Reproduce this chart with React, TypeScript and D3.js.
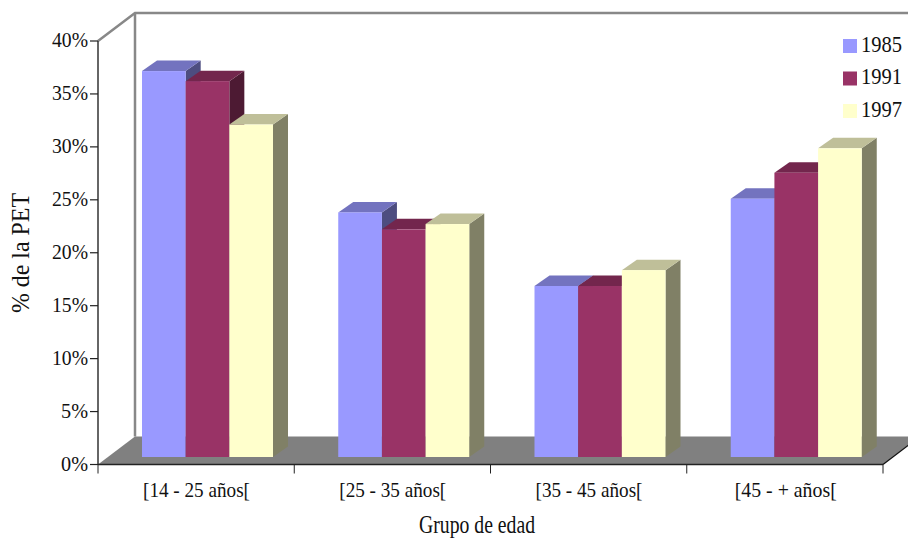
import React from "react";
import * as d3 from "d3";

const categories = ["[14 - 25 años[", "[25 - 35 años[", "[35 - 45 años[", "[45 - + años["];
const years = ["1985", "1991", "1997"];
const v1985 = [36.45, 23.1, 16.15, 24.4];
const v1991 = [35.5, 21.5, 16.15, 26.85];
const v1997 = [31.4, 22.0, 17.65, 29.15];
const seriesValues = [v1985, v1991, v1997];
const yTicks = [0, 5, 10, 15, 20, 25, 30, 35, 40];
const front = ["#9999ff", "#993366", "#ffffcc"];
const top = ["#7373bf", "#73264d", "#bfbf99"];
const side = ["#4d4d80", "#4d1a33", "#808066"];

const font = "'Liberation Serif', serif";
const X0 = 98, X1 = 883, Y0 = 464.5, Y40 = 41;
const WX = 37, WY = 28;
const BDX = 15, BDY = 10.5, BASE = 457;

export default function App() {
  const y = d3.scaleLinear().domain([0, 40]).range([Y0, Y40]);
  const h = d3.scaleLinear().domain([0, 40]).range([0, Y0 - Y40]);
  const x0 = d3.scaleBand<string>().domain(categories).range([X0, X1]);
  const x1 = d3.scaleBand<string>().domain(years).range([44, 175]);
  const w = x1.bandwidth();
  const line = d3.line();
  const ticksX = [...categories.map((c) => x0(c)!), X1];
  const bars: React.ReactNode[] = [];
  categories.forEach((c, ci) => {
    years.forEach((yr, si) => {
      const xl = x0(c)! + x1(yr)!;
      const yt = BASE - h(seriesValues[si][ci]);
      const poly = (pts: [number, number][]) => pts.map((p) => p.join(",")).join(" ");
      bars.push(
        <g key={c + yr}>
          <polygon fill={side[si]} points={poly([[xl + w, yt], [xl + w + BDX, yt - BDY], [xl + w + BDX, BASE - BDY], [xl + w, BASE]])} />
          <polygon fill={top[si]} points={poly([[xl, yt], [xl + BDX, yt - BDY], [xl + w + BDX, yt - BDY], [xl + w, yt]])} />
          <rect x={xl} y={yt} width={w} height={BASE - yt} fill={front[si]} />
        </g>
      );
    });
  });
  return (
    <svg width={908} height={538} style={{ position: "absolute", left: 0, top: 0, background: "#fff" }} fontFamily={font}>
      <path d={line([[X0, Y40], [X0 + WX, Y40 - WY], [908, Y40 - WY]])!} fill="none" stroke="#888" strokeWidth={2.5} />
      <path d={line([[X0 + WX, Y40 - WY], [X0 + WX, Y0 - WY]])!} fill="none" stroke="#888" strokeWidth={2.5} />
      <polygon fill="#808080" points={`${X0},${Y0} ${X0 + WX},${Y0 - WY} ${X1 + WX},${Y0 - WY} ${X1},${Y0}`} />
      {bars}
      <path d={line([[X1, Y0], [X1 + WX, Y0 - WY]])!} stroke="#111" strokeWidth={1.2} fill="none" />
      <path d={line([[X0, Y40], [X0, Y0]])!} stroke="#333" strokeWidth={1.5} fill="none" />
      <path d={line([[X0, Y0], [X1, Y0]])!} stroke="#222" strokeWidth={1.5} fill="none" />
      {yTicks.map((t) => (
        <g key={t}>
          <line x1={X0 - 8} x2={X0} y1={y(t)} y2={y(t)} stroke="#222" strokeWidth={1.2} />
          <text x={X0 - 10} y={y(t) + 6} textAnchor="end" fontSize={21} fill="#111" textLength={t < 10 ? 27 : 36} lengthAdjust="spacingAndGlyphs">{t}%</text>
        </g>
      ))}
      {ticksX.map((t, i) => (
        <line key={i} x1={t} x2={t} y1={Y0} y2={Y0 + 9} stroke="#222" strokeWidth={1} />
      ))}
      {categories.map((c, i) => (
        <text key={c} x={x0(c)! + (i === 3 ? 48 : 45)} y={497} fontSize={21} fill="#111" textLength={i === 3 ? 102 : 107} lengthAdjust="spacingAndGlyphs">{c}</text>
      ))}
      <text x={477} y={533} textAnchor="middle" fontSize={25} fill="#111" textLength={116} lengthAdjust="spacingAndGlyphs">Grupo de edad</text>
      <text transform="translate(29,253) rotate(-90)" textAnchor="middle" fontSize={25} fill="#111" textLength={120} lengthAdjust="spacingAndGlyphs">% de la PET</text>
      {years.map((yr, i) => (
        <g key={yr}>
          <rect x={843} y={39 + i * 32.5} width={14} height={14} fill={front[i]} />
          <text x={861} y={51.5 + i * 32.7} fontSize={24} fill="#111" textLength={41} lengthAdjust="spacingAndGlyphs">{yr}</text>
        </g>
      ))}
    </svg>
  );
}
